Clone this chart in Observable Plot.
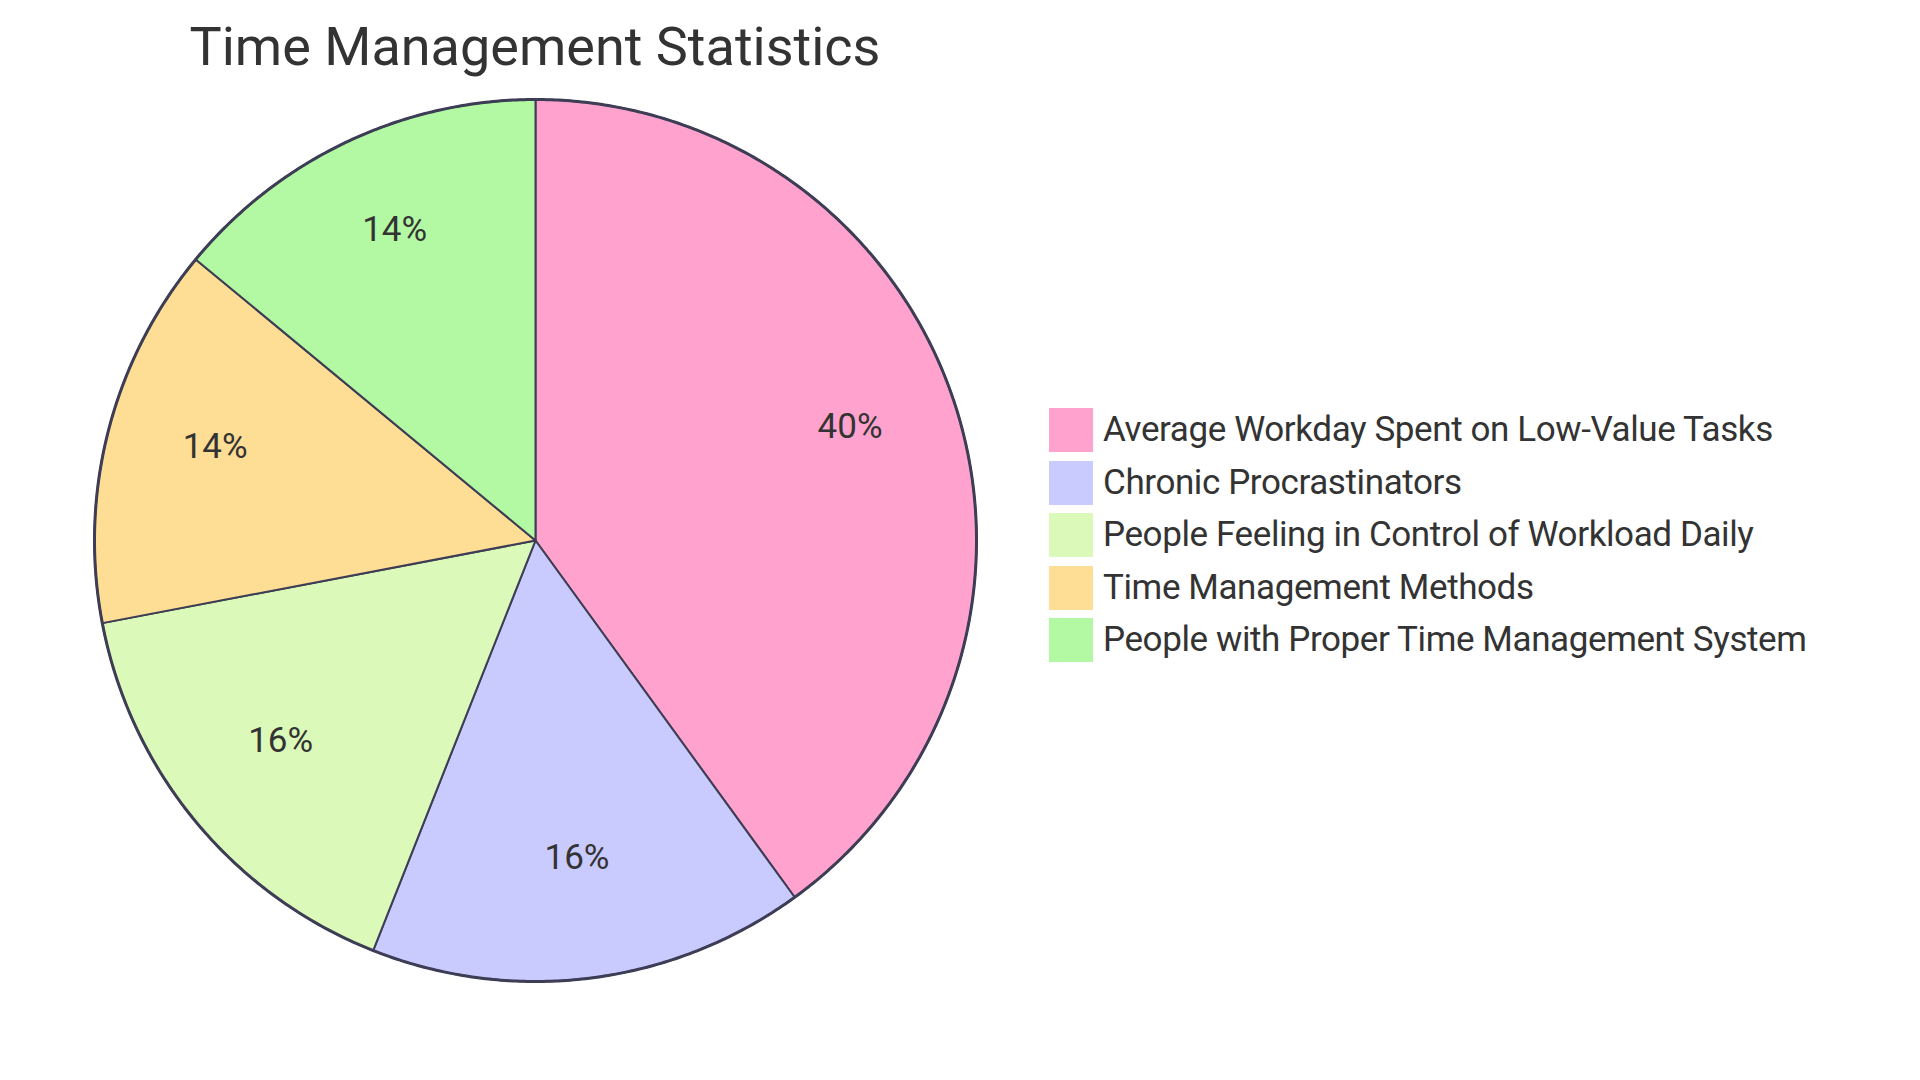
<!DOCTYPE html>
<html>
<head>
<meta charset="utf-8">
<script src="https://cdn.jsdelivr.net/npm/d3@7"></script>
<script src="https://cdn.jsdelivr.net/npm/@observablehq/plot@0.6"></script>
<style>
  html, body { margin: 0; padding: 0; background: #fff; }
  body { width: 1920px; height: 1080px; position: relative; overflow: hidden; font-family: Roboto, "Noto Sans", sans-serif; color: #333; }
  #title { position: absolute; left: 0; width: 1070px; top: 20px; text-align: center; font-size: 54px; line-height: 54px; color: #333; }
  #legend { position: absolute; left: 1049px; top: 408px; }
  .row { display: flex; align-items: center; height: 44px; margin-bottom: 8.5px; }
  .sw { width: 44px; height: 44px; margin-right: 10px; flex: none; }
  .lbl { font-size: 35px; letter-spacing: -0.4px; line-height: 44px; white-space: nowrap; color: #333; }
  #chart { position: absolute; left: 0; top: 0; }
</style>
</head>
<body>
<div id="chart"></div>
<div id="title"></div>
<div id="legend"></div>
<script>
const title = "Time Management Statistics";
const categories = [
  "Average Workday Spent on Low-Value Tasks",
  "Chronic Procrastinators",
  "People Feeling in Control of Workload Daily",
  "Time Management Methods",
  "People with Proper Time Management System"
];
const values = [40, 16, 16, 14, 14];
const colors = ["#FFA3CE", "#C9CAFD", "#DBF9B8", "#FEDD94", "#B3F8A3"];

const total = d3.sum(values);
const arcs = d3.pie().sort(null).value(d => d.value)(categories.map((c, i) => ({category: c, value: values[i]})));

// polygon points of each slice in unit coordinates (angle measured clockwise from top)
const slicePts = [];
for (const a of arcs) {
  const n = Math.max(2, Math.ceil((a.endAngle - a.startAngle) / 0.005));
  slicePts.push({category: a.data.category, x: 0, y: 0});
  for (let k = 0; k <= n; k++) {
    const t = a.startAngle + (a.endAngle - a.startAngle) * k / n;
    slicePts.push({category: a.data.category, x: Math.sin(t), y: Math.cos(t)});
  }
  slicePts.push({category: a.data.category, x: 0, y: 0});
}
const circlePts = d3.range(0, 721).map(k => ({x: Math.sin(k / 720 * 2 * Math.PI), y: Math.cos(k / 720 * 2 * Math.PI)}));
const labels = arcs.map(a => {
  const m = (a.startAngle + a.endAngle) / 2;
  return {x: 0.75 * Math.sin(m), y: 0.75 * Math.cos(m), text: Math.round(a.data.value / total * 100) + "%"};
});

const cx = 535, cy = 540, r = 441;
const chart = Plot.plot({
  width: 1920,
  height: 1080,
  margin: 0,
  x: {domain: [-1, 1], range: [cx - r, cx + r], axis: null},
  y: {domain: [-1, 1], range: [cy + r, cy - r], axis: null},
  color: {domain: categories, range: colors},
  style: {background: "transparent", fontFamily: "Roboto, sans-serif"},
  marks: [
    Plot.line(slicePts, {x: "x", y: "y", z: "category", fill: "category", stroke: "#3d3d55", strokeWidth: 2, curve: "linear", strokeLinejoin: "round"}),
    Plot.line(circlePts, {x: "x", y: "y", stroke: "#3d3d55", strokeWidth: 3, fill: "none"}),
    Plot.text(labels, {x: "x", y: "y", text: "text", fontSize: 35, fill: "#333", dy: -11})
  ]
});
document.getElementById("chart").appendChild(chart);
document.getElementById("title").textContent = title;

const legend = document.getElementById("legend");
categories.forEach((c, i) => {
  const row = document.createElement("div");
  row.className = "row";
  const sw = document.createElement("div");
  sw.className = "sw";
  sw.style.background = colors[i];
  const lb = document.createElement("div");
  lb.className = "lbl";
  lb.textContent = c;
  row.appendChild(sw); row.appendChild(lb);
  legend.appendChild(row);
});
</script>
</body>
</html>
